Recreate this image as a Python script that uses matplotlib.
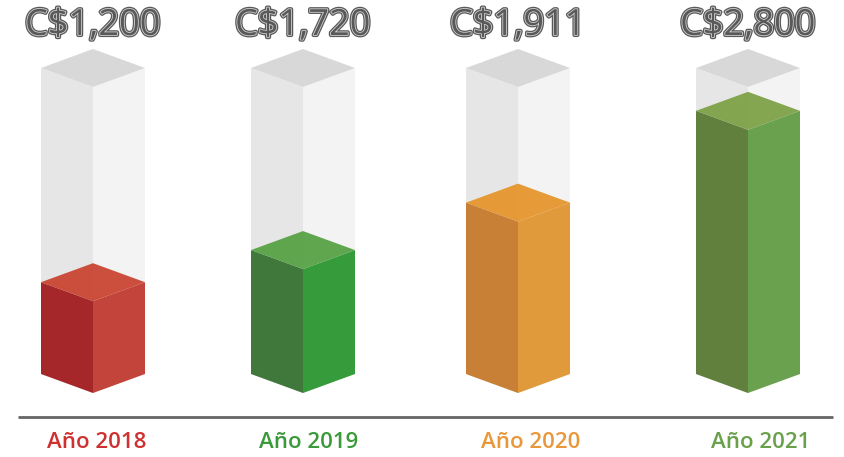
import matplotlib.pyplot as plt
from matplotlib.patches import Polygon
import matplotlib.patheffects as pe

# data
years = ['Año 2018', 'Año 2019', 'Año 2020', 'Año 2021']
values = [1200, 1720, 1911, 2800]
fill = [0.30, 0.405, 0.56, 0.86]   # filled share of each column

# colours: left face, right face, top
face_colors = [
    ('#a5272a', '#c2443b', '#c9412f'),
    ('#3f783a', '#359b3b', '#54a042'),
    ('#c78035', '#e09a3b', '#e6942a'),
    ('#61803e', '#6aa14f', '#7ca045'),
]
label_colors = ['#cf3131', '#3a9a3a', '#e8983a', '#69a04b']
gray = ('#e6e6e6', '#f3f3f3', '#d8d8d8')

# layout in pixels
centers = [93, 303, 518, 748]
label_x = [97, 309, 531, 761]
half_w = 52
dy = 19
base_y = 393
span = 306


def box(ax, cx, y_bot, y_top, cols, top_alpha=1.0):
    left = [(cx - half_w, y_bot - dy), (cx, y_bot), (cx, y_top), (cx - half_w, y_top - dy)]
    right = [(cx, y_bot), (cx + half_w, y_bot - dy), (cx + half_w, y_top - dy), (cx, y_top)]
    top = [(cx, y_top), (cx + half_w, y_top - dy), (cx, y_top - 2 * dy), (cx - half_w, y_top - dy)]
    ax.add_patch(Polygon(left, closed=True, facecolor=cols[0], edgecolor='none'))
    ax.add_patch(Polygon(right, closed=True, facecolor=cols[1], edgecolor='none'))
    ax.add_patch(Polygon(top, closed=True, facecolor=cols[2], edgecolor='none', alpha=top_alpha))


fig = plt.figure(figsize=(8.44, 4.57), dpi=100)
ax = fig.add_axes([0, 0, 1, 1])
ax.set_xlim(0, 844)
ax.set_ylim(457, 0)
ax.axis('off')

for i in range(len(years)):
    cx = centers[i]
    box(ax, cx, base_y, base_y - span, gray)
    box(ax, cx, base_y, base_y - span * fill[i], face_colors[i], top_alpha=0.93)
    ax.text(cx, 26, 'C${:,}'.format(values[i]), ha='center', va='center',
            fontsize=26, fontweight='normal', family='Open Sans', color='#595959',
            path_effects=[pe.Stroke(linewidth=3.0, foreground='#595959'),
                          pe.Stroke(linewidth=1.2, foreground='#d0d0d0'),
                          pe.Normal()])
    ax.text(label_x[i], 443, years[i], ha='center', va='center',
            fontsize=16, fontweight='semibold', family='Open Sans', color=label_colors[i])

ax.plot([18, 833], [417, 417], color='#666666', lw=2, solid_capstyle='butt')

fig.savefig('out.png', dpi=100)
